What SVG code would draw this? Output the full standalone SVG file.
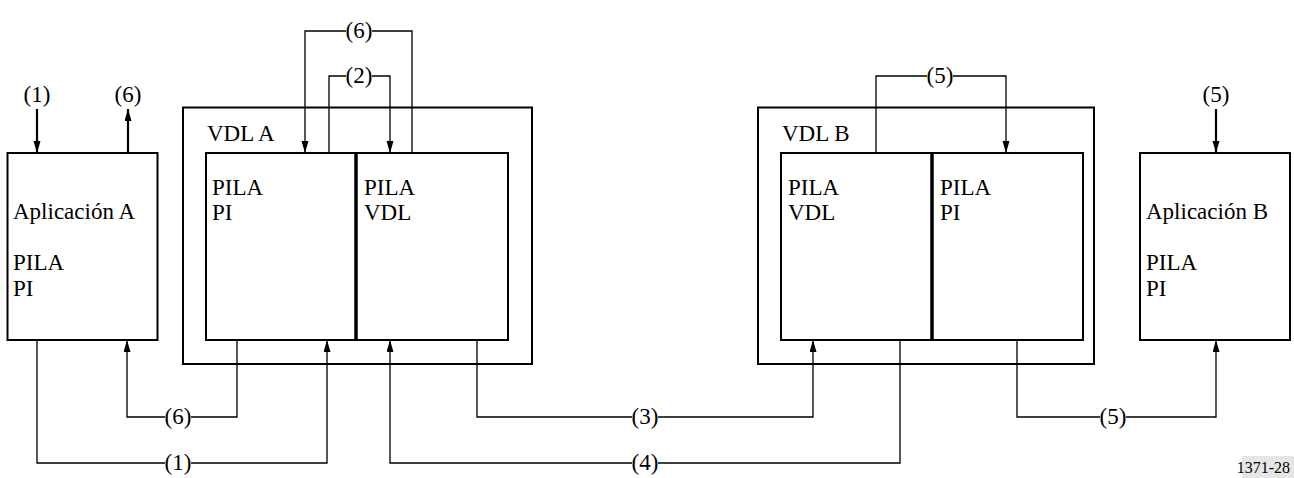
<svg xmlns="http://www.w3.org/2000/svg" width="1294" height="478" viewBox="0 0 1294 478">
<style>
  text { font-family: "Liberation Serif", "DejaVu Serif", "Noto Serif", serif; font-size: 23px; fill: #000; }
  .lbl { text-anchor: middle; }
  .box { fill: none; stroke: #000; stroke-width: 2; }
  .div { stroke: #000; stroke-width: 3.5; }
  .con { fill: none; stroke: #000; stroke-width: 1.3; }
  .ext { fill: none; stroke: #000; stroke-width: 2.2; }
  .bg { fill: #fff; }
  .fig { font-size: 16px; text-anchor: end; }
</style>
<defs>
  <marker id="ah" markerUnits="userSpaceOnUse" markerWidth="13" markerHeight="8" refX="12" refY="3.5" orient="auto">
    <path d="M0,0 L12,3.5 L0,7 Z" fill="#000"/>
  </marker>
</defs>
<rect width="1294" height="478" fill="#fff"/>

<g id="connectors">
  <g id="c-ext1"><path class="ext" d="M37,109 V153" marker-end="url(#ah)"/><text class="lbl" x="37" y="102">(1)</text></g>
  <g id="c-ext6"><path class="ext" d="M128,153 V109" marker-end="url(#ah)"/><text class="lbl" x="128" y="102">(6)</text></g>
  <g id="c-ext5"><path class="ext" d="M1216,109 V153" marker-end="url(#ah)"/><text class="lbl" x="1216" y="102">(5)</text></g>

  <g id="c-top6"><path class="con" d="M412,153 V31 H305 V153" marker-end="url(#ah)"/><rect class="bg" x="346" y="20" width="26" height="22"/><text class="lbl" x="359" y="38">(6)</text></g>
  <g id="c-top2"><path class="con" d="M329,153 V76 H390 V153" marker-end="url(#ah)"/><rect class="bg" x="346" y="65" width="26" height="22"/><text class="lbl" x="359" y="83">(2)</text></g>
  <g id="c-top5"><path class="con" d="M876,153 V76 H1006 V153" marker-end="url(#ah)"/><rect class="bg" x="927" y="65" width="26" height="22"/><text class="lbl" x="940" y="83">(5)</text></g>

  <g id="c-bot6"><path class="con" d="M237,340 V417 H127 V340" marker-end="url(#ah)"/><rect class="bg" x="165" y="406" width="26" height="22"/><text class="lbl" x="178" y="424">(6)</text></g>
  <g id="c-bot1"><path class="con" d="M37,340 V463 H327 V340" marker-end="url(#ah)"/><rect class="bg" x="165" y="452" width="26" height="22"/><text class="lbl" x="178" y="470">(1)</text></g>
  <g id="c-bot3"><path class="con" d="M477,340 V417 H813 V340" marker-end="url(#ah)"/><rect class="bg" x="632" y="406" width="26" height="22"/><text class="lbl" x="645" y="424">(3)</text></g>
  <g id="c-bot4"><path class="con" d="M900,340 V463 H390 V340" marker-end="url(#ah)"/><rect class="bg" x="632" y="452" width="26" height="22"/><text class="lbl" x="645" y="470">(4)</text></g>
  <g id="c-bot5"><path class="con" d="M1017,340 V417 H1216 V340" marker-end="url(#ah)"/><rect class="bg" x="1100" y="406" width="26" height="22"/><text class="lbl" x="1113" y="424">(5)</text></g>
</g>

<g id="app-a">
  <rect class="box" x="7.5" y="153" width="150" height="187"/>
  <text x="13" y="219">Aplicación A</text>
  <text x="13" y="270">PILA</text>
  <text x="13" y="296">PI</text>
</g>

<g id="vdl-a">
  <rect class="box" x="183" y="107.5" width="349" height="256.5"/>
  <text x="207" y="141">VDL A</text>
</g>
<g id="vdl-a-pi">
  <rect class="box" x="206" y="153" width="150" height="187"/>
  <text x="212" y="195">PILA</text>
  <text x="212" y="220">PI</text>
</g>
<g id="vdl-a-vdl">
  <rect class="box" x="356" y="153" width="152" height="187"/>
  <line class="div" x1="356" y1="153" x2="356" y2="340"/>
  <text x="364" y="195">PILA</text>
  <text x="364" y="220">VDL</text>
</g>

<g id="vdl-b">
  <rect class="box" x="758" y="107.5" width="336" height="256.5"/>
  <text x="782" y="141">VDL B</text>
</g>
<g id="vdl-b-vdl">
  <rect class="box" x="781" y="153" width="151" height="187"/>
  <text x="788" y="195">PILA</text>
  <text x="788" y="220">VDL</text>
</g>
<g id="vdl-b-pi">
  <rect class="box" x="932" y="153" width="151" height="187"/>
  <line class="div" x1="932" y1="153" x2="932" y2="340"/>
  <text x="940" y="195">PILA</text>
  <text x="940" y="220">PI</text>
</g>

<g id="app-b">
  <rect class="box" x="1140" y="153" width="150" height="187"/>
  <text x="1146" y="219">Aplicación B</text>
  <text x="1146" y="270">PILA</text>
  <text x="1146" y="296">PI</text>
</g>

<g id="fig-id">
  <rect x="1242" y="456" width="52" height="22" fill="#e6e6e6"/>
  <text class="fig" x="1290" y="473">1371-28</text>
</g>
</svg>
